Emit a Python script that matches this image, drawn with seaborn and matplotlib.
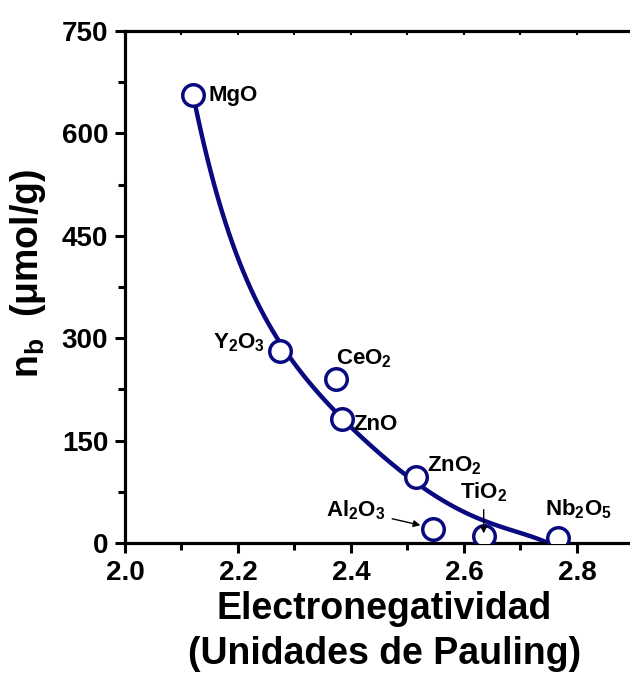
import matplotlib
matplotlib.use("Agg")
import matplotlib.pyplot as plt
import seaborn as sns
import pandas as pd
from matplotlib.ticker import MultipleLocator, NullFormatter

# Data
materials = ["MgO", "Y2O3", "CeO2", "ZnO", "ZnO2", "Al2O3", "TiO2", "Nb2O5"]
electroneg = [2.12, 2.274, 2.373, 2.384, 2.515, 2.545, 2.635, 2.766]
nb_values = [656, 281, 240, 182, 97, 20, 10, 7]

# fitted trend curve
curve_x = [2.120, 2.138, 2.168, 2.204, 2.251, 2.283, 2.315, 2.345, 2.384,
           2.428, 2.487, 2.545, 2.605, 2.646, 2.700, 2.735, 2.752]
curve_y = [656, 595, 498, 400, 322, 293, 253, 209, 182,
           146, 107, 73, 44, 29, 14, 4, 0]

xticks = [2.0, 2.2, 2.4, 2.6, 2.8]
yticks = [0, 150, 300, 450, 600, 750]

sns.set_theme(style="ticks")
plt.rcParams['font.family'] = ['Liberation Sans', 'DejaVu Sans']
plt.rcParams['font.weight'] = 'bold'
plt.rcParams['mathtext.fontset'] = 'custom'
plt.rcParams['mathtext.rm'] = 'Liberation Sans:bold'
plt.rcParams['mathtext.bf'] = 'Liberation Sans:bold'
plt.rcParams['mathtext.it'] = 'Liberation Sans:bold'
plt.rcParams['mathtext.default'] = 'bf'

navy = "#0a0a80"

fig = plt.figure(figsize=(6.3, 6.77), dpi=100)
ax = fig.add_axes([125/630, (677-543)/677, 1 - 125/630, (543-31)/677])

df_curve = pd.DataFrame({"x": curve_x, "y": curve_y})
df_pts = pd.DataFrame({"x": electroneg, "y": nb_values, "m": materials})

sns.regplot(data=df_curve, x="x", y="y", ax=ax, order=5, ci=None,
            scatter=False, truncate=True,
            line_kws=dict(color=navy, linewidth=3.2, zorder=2))
sns.scatterplot(data=df_pts, x="x", y="y", ax=ax, s=240, facecolor="white",
                edgecolor=navy, linewidth=2.5, zorder=3, legend=False)

ax.set_xlim(2.0, 2.894)
ax.set_ylim(0, 750)
ax.set_xticks(xticks)
ax.set_yticks(yticks)
ax.xaxis.set_minor_locator(MultipleLocator(0.1))
ax.yaxis.set_minor_locator(MultipleLocator(75))
ax.set_xticklabels([f"{v:.1f}" for v in xticks], fontsize=20, fontweight='bold')
ax.set_yticklabels([str(v) for v in yticks], fontsize=20, fontweight='bold')

for s in ["left", "bottom", "top"]:
    ax.spines[s].set_linewidth(2.3)
    ax.spines[s].set_color("black")
ax.spines["right"].set_visible(False)

ax.tick_params(axis='both', which='major', direction='out', length=7, width=2.2,
               colors='black', labelcolor='black', pad=5)
ax.tick_params(axis='both', which='minor', direction='out', length=5, width=2.2,
               colors='black')

top = ax.secondary_xaxis('top')
top.xaxis.set_major_locator(MultipleLocator(0.1))
top.xaxis.set_major_formatter(NullFormatter())
top.tick_params(direction='in', length=3, width=1.5, colors='black')
top.spines['top'].set_visible(False)

ax.set_xlabel("Electronegatividad\n(Unidades de Pauling)", fontsize=27,
              fontweight='bold', linespacing=1.3, labelpad=4, color='black')
ax.xaxis.set_label_coords(0.51, -0.063, transform=None) if False else None
ax.xaxis.label.set_x(0.514)
ax.set_ylabel(r"n$_b$  ($\mu$mol/g)", fontsize=27, fontweight='bold',
              color='black')
ax.yaxis.set_label_coords(-0.152, 0.527)

lab_kw = dict(fontsize=16, fontweight='bold', color='black')
ax.text(2.147, 656, "MgO", ha='left', va='center', **lab_kw)
ax.text(2.247, 293, r"Y$_2$O$_3$", ha='right', va='center', **lab_kw)
ax.text(2.373, 270, r"CeO$_2$", ha='left', va='center', **lab_kw)
ax.text(2.405, 174, "ZnO", ha='left', va='center', **lab_kw)
ax.text(2.535, 113, r"ZnO$_2$", ha='left', va='center', **lab_kw)
ax.text(2.743, 50, r"Nb$_2$O$_5$", ha='left', va='center', **lab_kw)

ax.annotate(r"Al$_2$O$_3$", xy=(2.523, 26), xytext=(2.460, 48),
            ha='right', va='center', **lab_kw,
            arrowprops=dict(arrowstyle='-|>', color='black', lw=1.0,
                            mutation_scale=10, shrinkA=3, shrinkB=0))
ax.annotate(r"TiO$_2$", xy=(2.635, 14), xytext=(2.635, 75),
            ha='center', va='center', **lab_kw,
            arrowprops=dict(arrowstyle='-|>', color='black', lw=1.0,
                            mutation_scale=10, shrinkA=2, shrinkB=0))

fig.savefig("out.png", dpi=100)
